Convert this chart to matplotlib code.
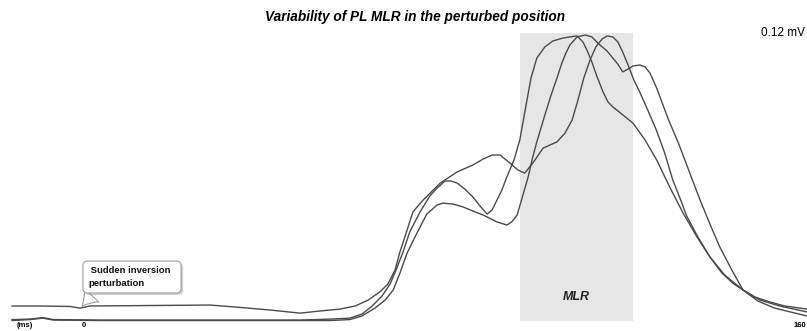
import matplotlib.pyplot as plt
import matplotlib.patheffects as pe
from matplotlib.patches import Rectangle

plt.rcParams['font.family'] = ['Liberation Sans', 'DejaVu Sans']

# time (ms) and amplitude (uV) of the three perturbed-position traces
t_a = [-16.1, -9.8, -3.1, -0.9, 1.3, 14.7, 28.2, 34.9, 41.6, 48.3, 52.7, 57.2, 60.6,
       63.5, 66.1, 67.9, 69.5, 70.6, 72.2, 73.5, 75.8, 79.6, 83.4, 86.9, 89.2, 91.2,
       93.0, 95.2, 97.0, 98.5, 100.3, 102.6, 105.7, 107.5, 109.1, 110.4, 111.7, 113.1,
       114.4, 115.8, 116.9, 118.2, 119.3, 120.4, 121.6, 122.9, 124.2, 126.0, 128.0,
       129.8, 131.6, 133.2, 134.7, 137.2, 139.9, 142.6, 145.0, 147.3, 149.9, 153.3,
       156.6, 161.6]
v_a = [5.9, 5.9, 5.7, 5.0, 5.9, 6.1, 6.3, 5.3, 4.2, 2.9, 3.8, 4.6, 5.9,
       8.4, 11.8, 15.1, 21.0, 28.6, 37.8, 45.4, 50.4, 57.5, 62.2, 65.1, 67.6, 69.3,
       69.3, 65.9, 63.0, 61.7, 65.9, 72.2, 74.8, 78.5, 84.0, 92.4, 101.6, 109.2,
       114.7, 118.0, 119.3, 118.9, 116.8, 112.6, 107.1, 100.8, 95.8, 88.2, 79.4,
       70.1, 58.8, 51.2, 43.7, 34.9, 26.5, 19.7, 15.5, 12.6, 9.7, 7.6,
       5.9, 4.6]

t_b = [-16.1, -12.1, -9.2, -6.9, 3.6, 25.9, 48.3, 55.0, 59.4, 62.1, 64.4, 66.6, 68.4,
       69.9, 71.3, 72.8, 75.1, 77.3, 78.9, 80.7, 82.0, 83.4, 85.1, 86.9, 88.5, 90.1,
       91.2, 92.3, 93.4, 94.5, 96.1, 97.4, 98.8, 99.9, 101.2, 103.0, 104.8, 107.0,
       108.6, 110.2, 111.5, 112.4, 113.5, 114.6, 116.0, 117.1, 118.2, 120.2, 122.7,
       125.4, 128.0, 130.9, 133.9, 137.0, 139.9, 143.2, 147.3, 151.1, 155.5, 161.6]
v_b = [0.2, 0.4, 1.0, 0.2, 0.0, 0.0, 0.0, 0.4, 0.8, 2.5, 5.9, 10.1, 15.1,
       21.8, 28.6, 37.0, 45.4, 52.1, 55.4, 58.4, 58.4, 57.5, 55.0, 51.7, 47.9, 44.5,
       46.2, 50.4, 54.6, 60.1, 67.2, 75.6, 90.3, 101.6, 110.0, 114.7, 117.2, 118.4,
       118.9, 119.3, 116.8, 113.4, 108.4, 102.5, 95.8, 91.6, 89.5, 86.5, 82.7,
       75.6, 67.2, 55.9, 44.9, 34.9, 26.5, 18.9, 12.6, 8.4, 5.9, 3.4]

t_c = [-16.1, -12.1, -9.2, -6.9, 3.6, 25.9, 48.3, 55.0, 59.4, 62.1, 65.0, 67.3, 69.1,
       70.6, 72.2, 74.4, 76.6, 78.9, 80.2, 82.5, 84.7, 86.9, 89.2, 92.3, 94.5, 95.6,
       96.8, 98.1, 99.2, 100.3, 101.2, 103.0, 104.4, 105.7, 106.8, 107.7, 108.6, 110.2,
       112.0, 113.5, 115.3, 116.9, 118.2, 119.3, 120.4, 121.6, 122.7, 124.2, 125.4,
       126.5, 128.0, 130.5, 133.2, 135.4, 137.7, 139.9, 142.1, 144.8, 147.3, 150.6,
       154.4, 161.6]
v_c = [-0.2, 0.2, 0.8, 0.0, -0.2, -0.2, -0.2, -0.2, 0.2, 1.7, 5.0, 8.4, 12.6,
       19.7, 28.1, 36.5, 44.5, 48.3, 49.1, 48.7, 47.5, 45.8, 44.1, 41.2, 39.9, 41.2,
       44.1, 52.5, 59.6, 68.5, 74.8, 86.1, 94.5, 101.6, 107.9, 112.1, 115.5, 118.9,
       119.7, 118.9, 115.5, 113.0, 110.0, 107.5, 104.2, 105.4, 106.7, 107.1, 106.3,
       103.7, 97.4, 84.8, 72.7, 61.7, 50.4, 40.3, 30.7, 21.0, 12.6, 8.0,
       5.0, 1.7]

mlr_window = (97.4, 122.7)   # ms
tick_ms = [0, 160]

fig = plt.figure(figsize=(8.07, 3.31), dpi=100)
ax = fig.add_axes([0, 0, 1, 1])
ax.set_xlim(-18.8, 161.6)
ax.set_ylim(-4.6, 134.4)
ax.axis('off')

# shaded MLR window
ax.add_patch(Rectangle((mlr_window[0], -0.4), mlr_window[1] - mlr_window[0], 120.9,
                       facecolor='#e6e6e6', edgecolor='none', zorder=0))

for t, v in [(t_a, v_a), (t_b, v_b), (t_c, v_c)]:
    ax.plot(t, v, color='#4a4a4a', lw=1.0, zorder=2)

ax.text(sum(mlr_window) / 2, 0.103, 'MLR', transform=ax.get_xaxis_transform(),
        ha='center', va='center', fontsize=9, fontweight='bold', style='italic', color='#222')

fig.text(0.514, 0.948, 'Variability of PL MLR in the perturbed position', ha='center',
         va='center', fontsize=9.8, fontweight='bold', style='italic')
fig.text(0.998, 0.9, '0.12 mV', ha='right', va='center', fontsize=8.5)

# axis labels along the bottom
ax.text(-13.2, 0.018, '(ms)', transform=ax.get_xaxis_transform(), ha='center',
        va='center', fontsize=5.5, fontweight='bold')
for tk in tick_ms:
    ax.text(tk, 0.018, str(tk), transform=ax.get_xaxis_transform(), ha='center',
            va='center', fontsize=5.5, fontweight='bold')

# callout for the perturbation onset
ann = ax.annotate(' Sudden inversion  \nperturbation', xy=(-0.9, 5.0), xytext=(0.9, 0.163),
                  textcoords=ax.get_xaxis_transform(), ha='left', va='center',
                  fontsize=6.8, fontweight='bold', linespacing=1.5, color='#111',
                  bbox=dict(boxstyle='round,pad=0.55,rounding_size=0.5', fc='white',
                            ec='#a0a0a0', lw=0.8),
                  arrowprops=dict(arrowstyle='wedge,tail_width=2.0,shrink_factor=0.4',
                                  fc='white', ec='#a0a0a0', lw=0.8, relpos=(0.12, 0)))
ann.get_bbox_patch().set_path_effects([pe.SimplePatchShadow(offset=(1.5, -1.5), alpha=0.25),
                                       pe.Normal()])

fig.savefig('out.png', dpi=100)
